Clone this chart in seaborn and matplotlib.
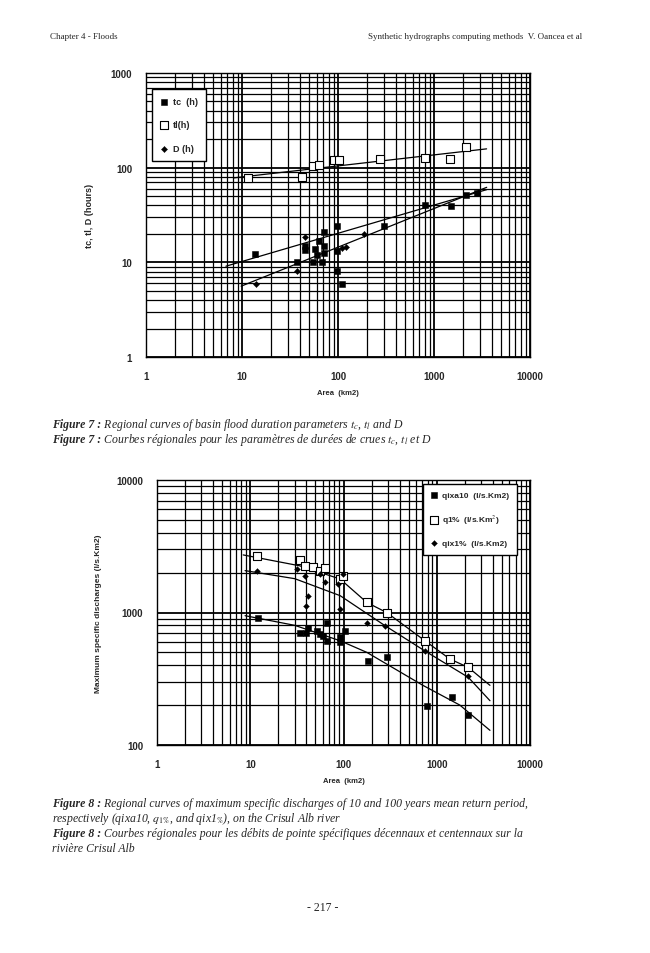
import numpy as np
import pandas as pd
import matplotlib
matplotlib.use("Agg")
import matplotlib.pyplot as plt
from matplotlib.ticker import FixedLocator, FixedFormatter, LogLocator, NullFormatter
import seaborn as sns

# ---------------- data: Figure 7 (durations, hours) ----------------
tc_area = [13.5, 37, 55, 68, 98, 110, 45, 45, 57, 71, 72, 60, 98, 71, 63, 98, 302, 800, 1515, 2180, 2800]
tc_h = [12.1, 10.1, 10.1, 10.1, 8.1, 5.9, 14.8, 13.5, 13.7, 14.8, 12.6, 12.0, 24, 20.7, 17, 13.2, 24, 40, 39, 52, 54]
tl_area = [11.6, 42, 55, 63, 91, 102, 277, 800, 1480, 2180]
tl_h = [78, 80, 104, 107, 121, 121, 124, 127, 124, 166]
d_area = [14, 37, 45, 110, 186, 120]
d_h = [5.9, 8.1, 18.3, 14, 20, 14.5]
tl_line_x = [8.2, 3530]
tl_line_y = [78, 158]
tc_line_x = [6.8, 3540]
tc_line_y = [9.1, 58.6]
d_line_x = [9.8, 3540]
d_line_y = [5.6, 62]

# ---------------- data: Figure 8 (specific discharges) ----------------
qa_area = [12.2, 34, 39.5, 42, 52, 56, 66, 60, 66, 92, 92, 104, 184, 290, 785, 1440, 2180]
qa_val = [908, 697, 700, 760, 730, 690, 830, 670, 612, 650, 600, 720, 428, 460, 198, 230, 168]
q1_area = [11.7, 34, 38.6, 47.5, 56, 63, 92, 99, 178, 290, 745, 1380, 2180]
q1_val = [2660, 2470, 2250, 2200, 2070, 2150, 1790, 1900, 1190, 1000, 613, 446, 385]
qx_area = [11.7, 31.5, 38.6, 42, 40, 56, 63, 99, 88, 92, 178, 279, 745, 2180]
qx_val = [2070, 2130, 1870, 1340, 1120, 1950, 1690, 1950, 1640, 1060, 830, 795, 513, 330]
q1_curve_x = [8.4, 34, 92, 178, 290, 745, 1380, 2180, 3720]
q1_curve_y = [2720, 2250, 1790, 1190, 1000, 613, 446, 385, 282]
qx_curve_x = [8.8, 30, 92, 279, 745, 2180, 3720]
qx_curve_y = [2070, 1800, 1340, 795, 513, 324, 216]
qa_curve_x = [8.8, 30, 92, 178, 710, 1770, 3720]
qa_curve_y = [946, 800, 612, 500, 282, 200, 129]

x_ticks = [1, 10, 100, 1000, 10000]
x_tick_labels = ["1", "10", "100", "1000", "10000"]
y7_ticks = [1, 10, 100, 1000]
y7_tick_labels = ["1", "10", "100", "1000"]
y8_ticks = [100, 1000, 10000]
y8_tick_labels = ["100", "1000", "10000"]

sns.set_style("white")
plt.rcParams["font.family"] = ["Liberation Sans", "DejaVu Sans"]
plt.rcParams["mathtext.fontset"] = "stix"

fig = plt.figure(figsize=(6.5, 9.54), dpi=100)

def style_axes(ax, ylo, yhi, yticks, ylabels):
    ax.set_xscale("log")
    ax.set_yscale("log")
    ax.set_xlim(1, 10000)
    ax.set_ylim(ylo, yhi)
    ax.xaxis.set_major_locator(FixedLocator(x_ticks))
    ax.xaxis.set_major_formatter(FixedFormatter(x_tick_labels))
    ax.yaxis.set_major_locator(FixedLocator(yticks))
    ax.yaxis.set_major_formatter(FixedFormatter(ylabels))
    ax.xaxis.set_minor_locator(LogLocator(base=10, subs=np.arange(2, 10)))
    ax.yaxis.set_minor_locator(LogLocator(base=10, subs=np.arange(2, 10)))
    ax.xaxis.set_minor_formatter(NullFormatter())
    ax.yaxis.set_minor_formatter(NullFormatter())
    ax.grid(True, which="major", color="black", lw=1.3)
    ax.grid(True, which="minor", color="black", lw=0.9)
    ax.tick_params(which="both", length=0, labelsize=7, pad=10)
    for lab in ax.get_xticklabels() + ax.get_yticklabels():
        lab.set_fontweight("bold")
    for s in ax.spines.values():
        s.set_color("black")
        s.set_linewidth(1.0)

# ---------------- Figure 7 ----------------
ax1 = fig.add_axes([146/650, 1-358/954, 384/650, 284/954])
style_axes(ax1, 1, 1000, y7_ticks, y7_tick_labels)
sns.lineplot(x=tl_line_x, y=tl_line_y, ax=ax1, color="black", lw=0.9, sort=False)
sns.lineplot(x=tc_line_x, y=tc_line_y, ax=ax1, color="black", lw=0.9, sort=False)
sns.lineplot(x=d_line_x, y=d_line_y, ax=ax1, color="black", lw=0.9, sort=False)
sns.scatterplot(x=tc_area, y=tc_h, ax=ax1, marker="s", color="black", s=22, edgecolor="black", label="tc  (h)", zorder=5)
sns.scatterplot(x=tl_area, y=tl_h, ax=ax1, marker="s", facecolor="white", edgecolor="black", linewidth=0.8, s=26, label="tl(h)", zorder=5)
sns.scatterplot(x=d_area, y=d_h, ax=ax1, marker="D", color="black", s=10, edgecolor="black", label="D (h)", zorder=5)
leg1 = ax1.legend(loc="upper left", bbox_to_anchor=(0.005, 0.96), frameon=True, fancybox=False,
                  edgecolor="black", framealpha=1, fontsize=6.5, labelspacing=1.6,
                  handletextpad=0.6, borderpad=0.9, handlelength=0.8)
leg1.get_frame().set_linewidth(1.0)
for t in leg1.get_texts():
    t.set_fontweight("bold")
ax1.set_xlabel("Area  (km2)", fontsize=5.5, fontweight="bold", labelpad=6)
ax1.set_ylabel("tc, tl, D (hours)", fontsize=6.5, fontweight="bold", labelpad=12)

# ---------------- Figure 8 ----------------
ax2 = fig.add_axes([157/650, 1-746/954, 373/650, 265/954])
style_axes(ax2, 100, 10000, y8_ticks, y8_tick_labels)
sns.lineplot(x=q1_curve_x, y=q1_curve_y, ax=ax2, color="black", lw=0.9, sort=False)
sns.lineplot(x=qx_curve_x, y=qx_curve_y, ax=ax2, color="black", lw=0.9, sort=False)
sns.lineplot(x=qa_curve_x, y=qa_curve_y, ax=ax2, color="black", lw=0.9, sort=False)
sns.scatterplot(x=qa_area, y=qa_val, ax=ax2, marker="s", color="black", s=24, edgecolor="black",
                label="qixa10  (l/s.Km2)", zorder=5)
sns.scatterplot(x=q1_area, y=q1_val, ax=ax2, marker="s", facecolor="white", edgecolor="black", linewidth=0.8,
                s=26, label="q1%  (l/s.Km$^2$)", zorder=5)
sns.scatterplot(x=qx_area, y=qx_val, ax=ax2, marker="D", color="black", s=9, edgecolor="black",
                label="qix1%  (l/s.Km2)", zorder=5)
leg2 = ax2.legend(loc="upper right", bbox_to_anchor=(0.975, 1.0), frameon=True, fancybox=False,
                  edgecolor="black", framealpha=1, fontsize=6, labelspacing=1.6,
                  handletextpad=0.6, borderpad=0.9, handlelength=0.8)
leg2.get_frame().set_linewidth(1.0)
for t in leg2.get_texts():
    t.set_fontweight("bold")
ax2.set_xlabel("Area  (km2)", fontsize=5.5, fontweight="bold", labelpad=6)
ax2.set_ylabel("Maximum specific discharges (l/s.Km2)", fontsize=6, fontweight="bold", labelpad=10)

# ---------------- page text ----------------
serif = ["Liberation Serif", "DejaVu Serif"]
fig.text(50/650, 1-37/954, "Chapter 4 - Floods", fontsize=6.5, family=serif, va="center")
fig.text(582/650, 1-37/954, "Synthetic hydrographs computing methods  V. Oancea et al",
         fontsize=6.5, family=serif, va="center", ha="right")

def caption(y, bold, rest):
    t = fig.text(52/650, 1-y/954, bold, fontsize=8.5, family=serif, style="italic",
                 fontweight="bold", va="center")
    fig.canvas.draw()
    bb = t.get_window_extent()
    fig.text(bb.x1 / fig.bbox.width, 1-y/954, rest, fontsize=8.5, family=serif,
             style="italic", va="center")

caption(425, "Figure 7 :", " Regional curves of basin flood duration parameters $t_c$, $t_l$ and D")
caption(440, "Figure 7 :", " Courbes régionales pour les paramètres de durées de crues $t_c$, $t_l$ et D")
caption(804, "Figure 8 :", " Regional curves of maximum specific discharges of 10 and 100 years mean return period,")
fig.text(52/650, 1-819/954, "respectively (qixa10, $q_{1\\%}$, and qix1$_{\\%}$), on the Crisul Alb river",
         fontsize=8.5, family=serif, style="italic", va="center")
caption(834, "Figure 8 :", " Courbes régionales pour les débits de pointe spécifiques décennaux et centennaux sur la")
fig.text(52/650, 1-849/954, "rivière Crisul Alb", fontsize=8.5, family=serif, style="italic", va="center")
fig.text(323/650, 1-908/954, "- 217 -", fontsize=8.5, family=serif, ha="center", va="center")

fig.savefig("out.png", dpi=100)
